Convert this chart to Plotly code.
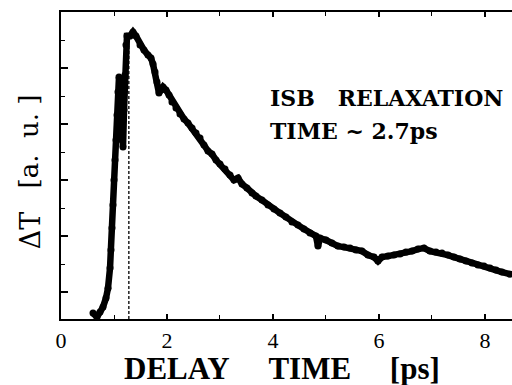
import plotly.graph_objects as go

# ---- data ----
delay_ps = [0.604, 0.679, 0.736, 0.792, 0.849, 0.887, 0.925, 0.943, 0.962, 0.981,
            1.000, 1.019, 1.038, 1.057, 1.075, 1.094, 1.113, 1.132, 1.151, 1.170,
            1.189, 1.208, 1.226, 1.245, 1.302, 1.358, 1.415, 1.491, 1.566, 1.642,
            1.698, 1.736, 1.774, 1.811, 1.849, 1.887, 1.925, 1.981, 2.038, 2.094,
            2.170, 2.245, 2.321, 2.396, 2.472, 2.547, 2.623, 2.698, 2.774, 2.849,
            2.925, 3.000, 3.094, 3.189, 3.264, 3.340, 3.415, 3.509, 3.604, 3.679,
            3.792, 3.906, 4.019, 4.132, 4.245, 4.358, 4.472, 4.585, 4.698, 4.811,
            4.849, 4.887, 5.000, 5.113, 5.226, 5.340, 5.453, 5.566, 5.679, 5.792,
            5.906, 5.981, 6.057, 6.170, 6.283, 6.396, 6.509, 6.623, 6.736, 6.849,
            6.962, 7.075, 7.189, 7.302, 7.415, 7.528, 7.642, 7.755, 7.868, 7.981,
            8.094, 8.208, 8.321, 8.472]
delta_t = [-0.375, -0.446, -0.357, -0.268, -0.107, 0.071, 0.429, 0.750, 1.143, 1.554,
           2.000, 2.357, 2.714, 3.161, 3.571, 3.839, 3.786, 3.250, 2.714, 2.589,
           3.250, 3.875, 4.411, 4.571, 4.571, 4.643, 4.571, 4.411, 4.321, 4.232,
           4.179, 4.071, 3.929, 3.750, 3.554, 3.607, 3.661, 3.607, 3.518, 3.393,
           3.286, 3.179, 3.089, 3.018, 2.929, 2.839, 2.750, 2.625, 2.518, 2.464,
           2.357, 2.286, 2.196, 2.089, 2.000, 2.036, 1.929, 1.857, 1.768, 1.714,
           1.643, 1.554, 1.482, 1.411, 1.339, 1.250, 1.196, 1.125, 1.054, 1.000,
           0.821, 0.964, 0.929, 0.875, 0.821, 0.804, 0.786, 0.750, 0.732, 0.661,
           0.625, 0.554, 0.625, 0.643, 0.661, 0.679, 0.714, 0.732, 0.768, 0.786,
           0.732, 0.714, 0.696, 0.661, 0.625, 0.589, 0.554, 0.518, 0.482, 0.464,
           0.429, 0.393, 0.357, 0.321]

peak_marker_x = [1.28, 1.28]
peak_marker_y = [-0.48, 4.40]

x_tick_vals = [0, 2, 4, 6, 8]
x_tick_text = ["0", "2", "4", "6", "8"]

fig = go.Figure()

fig.add_trace(go.Scatter(
    x=peak_marker_x, y=peak_marker_y, mode="lines",
    line=dict(color="#111111", width=1.4, dash="3px,2px"),
    hoverinfo="skip", showlegend=False))

fig.add_trace(go.Scatter(
    x=delay_ps, y=delta_t, mode="lines+markers",
    line=dict(color="black", width=6.5),
    marker=dict(color="black", size=7),
    showlegend=False))

serif = "Liberation Serif, Times New Roman, serif"
school = "DejaVu Serif, serif"
nb = "\u00a0"

fig.update_layout(
    width=512, height=385,
    margin=dict(l=61, r=0, t=12, b=66),
    paper_bgcolor="white", plot_bgcolor="white",
    xaxis=dict(
        range=[0, 8.51], showgrid=False, zeroline=False,
        showline=True, linecolor="black", linewidth=2, mirror="ticks",
        ticks="inside", ticklen=5, tickwidth=1.5, tickcolor="black",
        tickvals=x_tick_vals, ticktext=x_tick_text, ticklabelstandoff=1,
        tickfont=dict(family=serif, size=22, color="black"),
        minor=dict(ticks="inside", ticklen=4, tickwidth=1.2, dtick=1, tick0=0,
                   tickcolor="black", showgrid=False),
    ),
    yaxis=dict(
        range=[-0.48, 5.0], showgrid=False, zeroline=False,
        showline=True, linecolor="black", linewidth=2, mirror=False,
        ticks="inside", ticklen=7, tickwidth=1.5, tickcolor="black",
        dtick=1, tick0=0, showticklabels=False,
        minor=dict(ticks="inside", ticklen=4, tickwidth=1.2, dtick=0.5, tick0=0,
                   tickcolor="black", showgrid=False),
    ),
    annotations=[
        dict(text="DELAY" + nb * 5 + "TIME" + nb * 5 + "[ps]",
             xref="paper", yref="paper", x=0.49, y=-0.161, showarrow=False,
             xanchor="center", yanchor="middle", borderpad=0,
             font=dict(family=serif, size=31, color="black", weight="bold")),
        dict(text="\u0394T",
             xref="paper", yref="paper", x=-0.066, y=0.29, showarrow=False,
             xanchor="center", yanchor="middle", textangle=-90,
             font=dict(family=school, size=27, color="black")),
        dict(text="[a." + nb + nb + "u." + nb + "]",
             xref="paper", yref="paper", x=-0.072, y=0.577, showarrow=False,
             xanchor="center", yanchor="middle", textangle=-90,
             font=dict(family=school, size=26, color="black")),
        dict(text="ISB" + nb * 3 + "RELAXATION",
             xref="paper", yref="paper", x=0.459, y=0.72, showarrow=False,
             xanchor="left", yanchor="middle",
             font=dict(family=school, size=22, color="black", weight="bold")),
        dict(text="TIME ~ 2.7ps",
             xref="paper", yref="paper", x=0.459, y=0.612, showarrow=False,
             xanchor="left", yanchor="middle",
             font=dict(family=school, size=22, color="black", weight="bold")),
    ],
)

fig.write_html("out.html",
               config={"displayModeBar": False},
               post_script="document.body.style.margin='0';document.body.style.overflow='hidden';")
